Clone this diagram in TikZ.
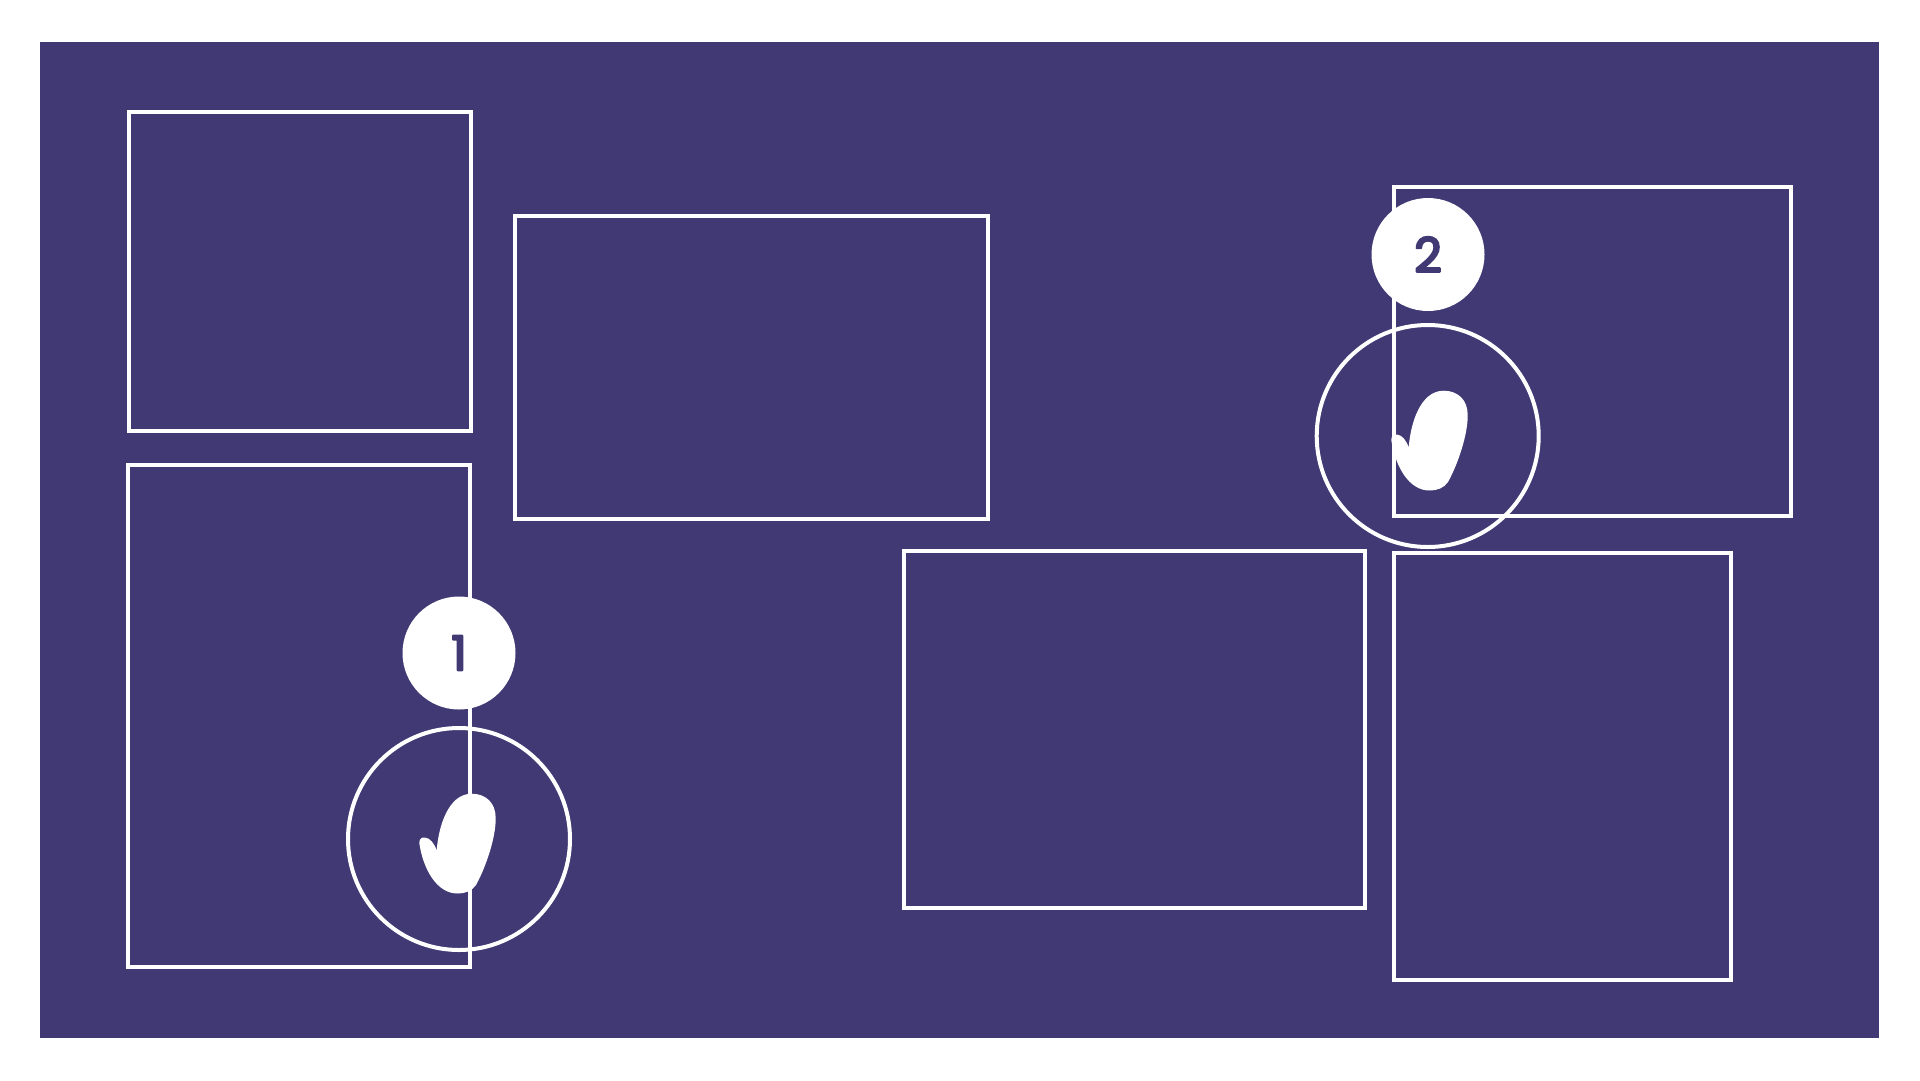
\documentclass[tikz,border=0pt]{standalone}
\usepackage{fontspec}
\newfontfamily\digitfont[FakeBold=4.5]{Poppins}
\definecolor{panel}{HTML}{403974}
\tikzset{
  px/.style={x=1pt,y=-1pt},
  frame/.style={draw=white,line width=4pt,fill=none},
  ring/.style={draw=white,line width=4pt,fill=none},
  badge/.style={circle,fill=white,minimum size=113pt,inner sep=0pt,text=panel,font=\digitfont\fontsize{48}{48}\selectfont},
  blob/.style={fill=white,draw=none}
}
\newcommand{\blobshape}[2]{%
  \fill[blob,shift={(#1,#2)}] (-39.7,4) .. controls (-39.7,-0.5) and (-37,-2) .. (-34,-1.5)
   .. controls (-29,-1) and (-25,4) .. (-22.3,11.3)
   .. controls (-20.5,-12) and (-11,-45.3) .. (12.7,-45.3)
   .. controls (27,-45.3) and (36.7,-36) .. (36.7,-21)
   .. controls (37,-2) and (27,28) .. (17,46)
   .. controls (13,52) and (6,54.5) .. (-1,54.5)
   .. controls (-22,55) and (-36,30) .. (-39.7,4) -- cycle;}
\newcommand{\rounddigit}[1]{\special{pdf:code 1 j 1 J}\raisebox{-1pt}{#1}}
\begin{document}
\begin{tikzpicture}[px]
\useasboundingbox (0,0) rectangle (1920,1080);
\fill[white] (0,0) rectangle (1920,1080);
\fill[panel] (40,42) rectangle (1879.3,1037.7);
\draw[frame] (128.7,112) rectangle (470.5,431);
\draw[frame] (514.7,215.5) rectangle (988.3,519.3);
\draw[frame] (127.7,464.7) rectangle (470.3,967);
\draw[frame] (904,551.3) rectangle (1364.7,908);
\draw[frame] (1394.3,187) rectangle (1791.3,516.3);
\draw[frame] (1394.3,552.7) rectangle (1731,980.3);
\draw[ring] (459,839) circle[radius=111];
\draw[ring] (1427.7,436) circle[radius=111];
\node[badge] (one) at (459,653) {\rounddigit{1}};
\node[badge] (two) at (1428,254.5) {\rounddigit{2}};
\blobshape{459}{839}
\blobshape{1431}{436}
\end{tikzpicture}
\end{document}
